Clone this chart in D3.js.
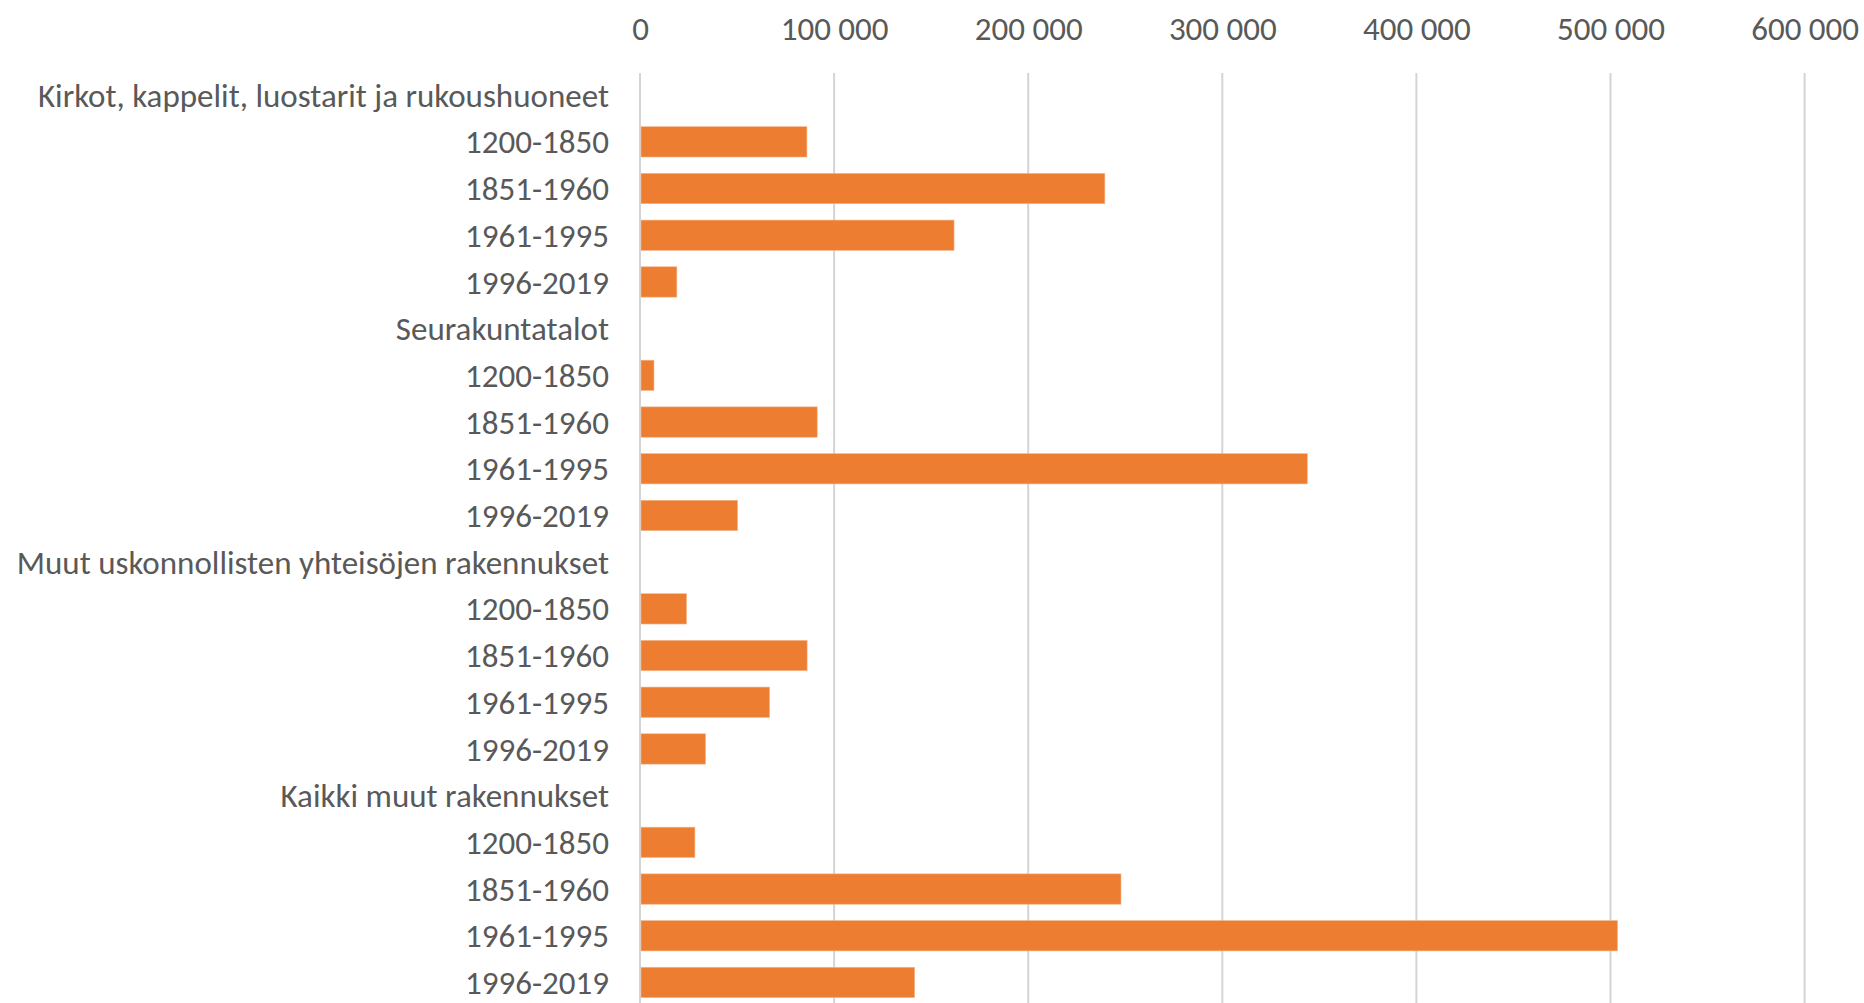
<!DOCTYPE html>
<html>
<head>
<meta charset="utf-8">
<script src="https://cdn.jsdelivr.net/npm/d3@7"></script>
<style>
  html, body { margin: 0; padding: 0; background: #ffffff; }
  svg { display: block; }
  text { font-family: Carlito, Calibri, Lato, "Open Sans", "Liberation Sans", sans-serif; fill: #595959; }
</style>
</head>
<body>
<script>
// ---- data ----
const groups = [
  "Kirkot, kappelit, luostarit ja rukoushuoneet",
  "Seurakuntatalot",
  "Muut uskonnollisten yhteisöjen rakennukset",
  "Kaikki muut rakennukset"
];
const periods = ["1200-1850", "1851-1960", "1961-1995", "1996-2019"];
const kirkotValues = [86000, 239500, 161800, 19000];
const seurakuntatalotValues = [7200, 91300, 343800, 50300];
const muutUskValues = [24000, 86100, 66800, 33800];
const kaikkiMuutValues = [28300, 247800, 503600, 141500];
const tickValues = [0, 100000, 200000, 300000, 400000, 500000, 600000];

const seriesValues = [kirkotValues, seurakuntatalotValues, muutUskValues, kaikkiMuutValues];

// build rows: group header then its periods
const rows = [];
groups.forEach((g, gi) => {
  rows.push({ key: "g" + gi, label: g, value: null });
  periods.forEach((p, pi) => {
    rows.push({ key: "g" + gi + "p" + pi, label: p, value: seriesValues[gi][pi] });
  });
});

const W = 1864, H = 1003;
const FS = 33;
const svg = d3.select("body").append("svg").attr("width", W).attr("height", H);

const x = d3.scaleLinear().domain([0, 600000]).range([640, 1804.6]);
const y = d3.scaleBand().domain(rows.map(r => r.key))
  .range([71.8, 1005.8]).paddingInner(0.35).paddingOuter(0.175);

const fmt = v => d3.format(",")(v).replace(/,/g, " ");

// gridlines
svg.append("g").selectAll("line").data(tickValues).join("line")
  .attr("x1", d => x(d)).attr("x2", d => x(d))
  .attr("y1", 73).attr("y2", H)
  .attr("stroke", "#d4d4d4").attr("stroke-width", 2);

// top axis labels
const axisG = svg.append("g").attr("transform", "translate(0,28.5)");
const axis = d3.axisTop(x).tickValues(tickValues).tickFormat(fmt).tickSize(0).tickPadding(0);
axisG.call(axis);
axisG.select(".domain").remove();
axisG.selectAll("text")
  .attr("dy", "0.35em").attr("y", 0)
  .style("font-size", FS + "px").attr("fill", "#595959")
  .style("font-family", null);

// bars
svg.append("g").selectAll("rect").data(rows.filter(r => r.value !== null)).join("rect")
  .attr("x", x(0) + 1)
  .attr("y", d => y(d.key))
  .attr("width", d => x(d.value) - x(0) - 1)
  .attr("height", y.bandwidth())
  .attr("fill", "#ED7D31")
  .attr("stroke", "#f6b88f").attr("stroke-width", 0.6);

// row labels
svg.append("g").selectAll("text").data(rows).join("text")
  .attr("x", 609)
  .attr("y", d => y(d.key) + y.bandwidth() / 2)
  .attr("dy", "0.35em")
  .attr("text-anchor", "end")
  .style("font-size", FS + "px")
  .text(d => d.label);
</script>
</body>
</html>
